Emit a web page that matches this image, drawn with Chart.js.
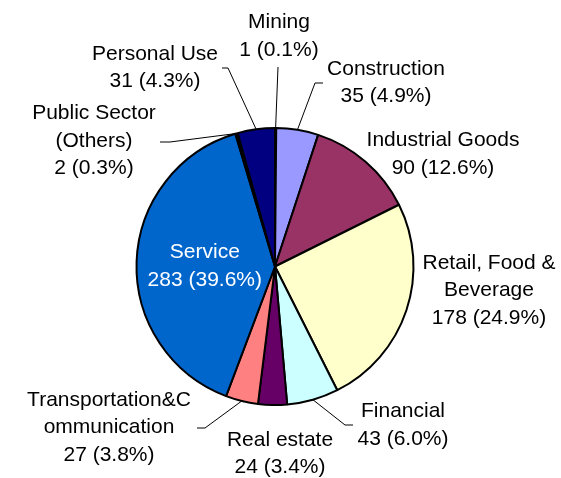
<!DOCTYPE html>
<html>
<head>
<meta charset="utf-8">
<script src="https://cdn.jsdelivr.net/npm/chart.js@4/dist/chart.umd.min.js"></script>
<style>
  html, body { margin: 0; padding: 0; background: #fff; }
  #chart { display: block; }
</style>
</head>
<body>
<canvas id="chart" width="561" height="478"></canvas>
<script>
// sectors, clockwise from 12 o'clock
const categories = [
    'Mining',
    'Construction',
    'Industrial Goods',
    ['Retail, Food &', 'Beverage'],
    'Financial',
    'Real estate',
    ['Transportation&C', 'ommunication'],
    'Service',
    ['Public Sector', '(Others)'],
    'Personal Use'
];
const counts = [1, 35, 90, 178, 43, 24, 27, 283, 2, 31];
const sliceColors = [
    '#111111', '#9999FF', '#993366', '#FFFFCC', '#CCFFFF',
    '#660066', '#FF8080', '#0066CC', '#111111', '#000080'
];

// where each label sits, relative to the pie centre (dx, dy of the text block centre)
// leader: elbow point + tail end, also relative to centre (null = no leader line)
const labelPlacement = [
    { dx: 4,    dy: -230.5, leader: [[3, -199.5], null] },
    { dx: 111,  dy: -184,   leader: [[40, -183.5], [48, -183.5]] },
    { dx: 168,  dy: -112.5, leader: null },
    { dx: 214,  dy: 24,     leader: null },
    { dx: 128,  dy: 158.5,  leader: [[70, 158.5], [78, 158.5]] },
    { dx: 5,    dy: 187,    leader: null },
    { dx: -166, dy: 161,    leader: [[-70, 161.5], [-78, 161.5]] },
    { inside: true },
    { dx: -181, dy: -125.5, leader: [[-105, -124.5], [-115, -124.5]] },
    { dx: -120, dy: -199,   leader: [[-47, -198.5], [-53, -198.5]] }
];

const pieLabels = {
    id: 'pieLabels',
    afterDatasetsDraw(chart) {
        const ctx = chart.ctx;
        const meta = chart.getDatasetMeta(0);
        const values = chart.data.datasets[0].data;
        const total = values.reduce((a, b) => a + b, 0);
        const lineH = 27.5;

        ctx.save();
        ctx.font = '21px "Liberation Sans", Arial, sans-serif';
        ctx.textAlign = 'center';
        ctx.textBaseline = 'middle';

        meta.data.forEach((arc, i) => {
            const p = arc.getProps(['x', 'y', 'startAngle', 'endAngle', 'outerRadius'], true);
            const place = labelPlacement[i];
            const name = chart.data.labels[i];
            const lines = (Array.isArray(name) ? name.slice() : [name]);
            lines.push(values[i] + ' (' + (values[i] / total * 100).toFixed(1) + '%)');

            let cx, cy;
            const mid = (p.startAngle + p.endAngle) / 2;
            if (place.inside) {
                cx = p.x + Math.cos(mid) * p.outerRadius * 0.5 - 1;
                cy = p.y + Math.sin(mid) * p.outerRadius * 0.5 + 2;
                ctx.fillStyle = '#fff';
            } else {
                cx = p.x + place.dx;
                cy = p.y + place.dy;
                ctx.fillStyle = '#000';
            }

            if (place.leader) {
                const edgeX = p.x + Math.cos(mid) * p.outerRadius;
                const edgeY = p.y + Math.sin(mid) * p.outerRadius;
                const [elbow, tail] = place.leader;
                ctx.beginPath();
                ctx.strokeStyle = '#000';
                ctx.lineWidth = 1;
                ctx.moveTo(edgeX, edgeY);
                ctx.lineTo(p.x + elbow[0], p.y + elbow[1]);
                if (tail) ctx.lineTo(p.x + tail[0], p.y + tail[1]);
                ctx.stroke();
            }

            const top = cy - (lines.length - 1) * lineH / 2;
            lines.forEach((t, k) => ctx.fillText(t, cx, top + k * lineH));
        });
        ctx.restore();
    }
};

new Chart(document.getElementById('chart').getContext('2d'), {
    type: 'pie',
    data: {
        labels: categories,
        datasets: [{
            data: counts,
            backgroundColor: sliceColors,
            borderColor: '#000',
            borderWidth: 2,
            hoverOffset: 0
        }]
    },
    options: {
        responsive: false,
        animation: false,
        radius: 138.5,
        layout: { padding: { left: 0, right: 11, top: 55, bottom: 0 } },
        plugins: {
            legend: { display: false },
            tooltip: { enabled: false }
        }
    },
    plugins: [pieLabels]
});
</script>
</body>
</html>
